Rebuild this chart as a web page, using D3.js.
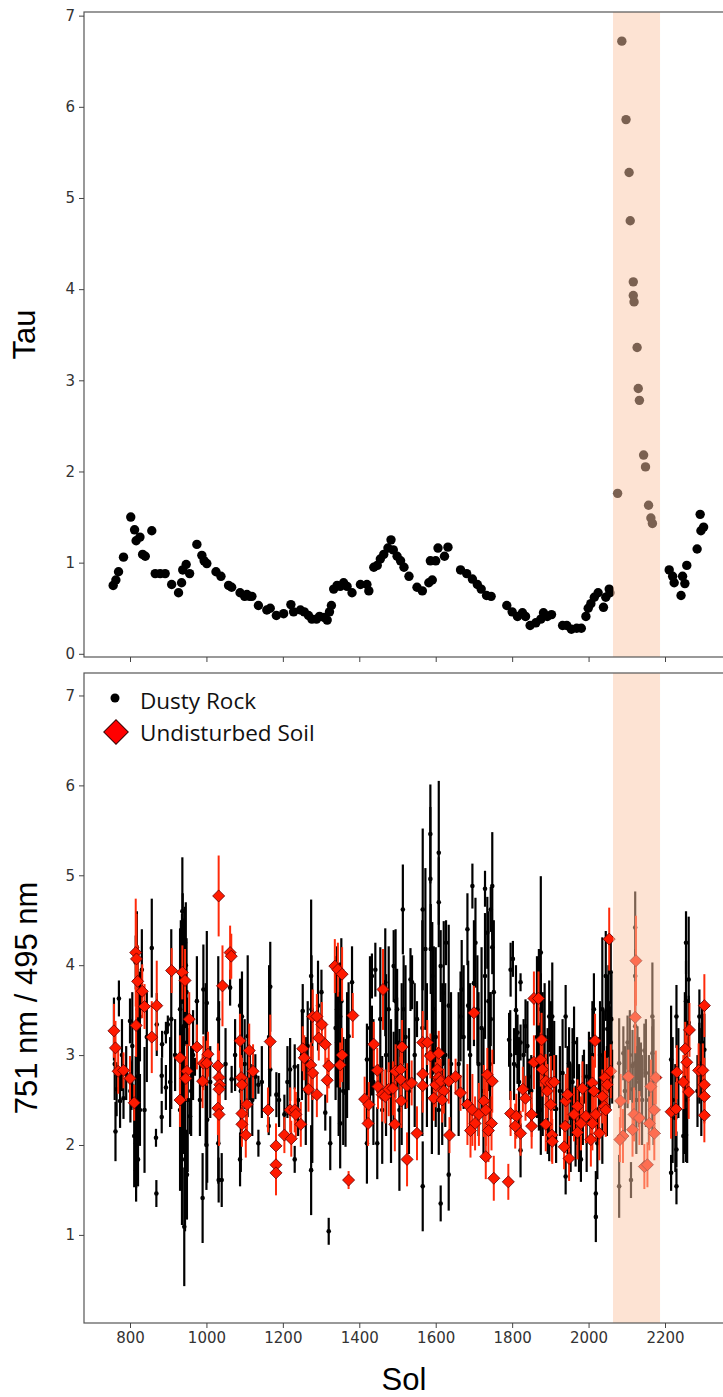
<!DOCTYPE html>
<html>
<head>
<meta charset="utf-8">
<script src="https://cdn.jsdelivr.net/npm/d3@7"></script>
<style>
  body { margin: 0; background: #fff; }
  .tick text { font-family: "DejaVu Sans", sans-serif; font-size: 15px; fill: #333; }
  .axis-label { font-family: "Liberation Sans", Arial, sans-serif; font-size: 31px; fill: #000; }
  .legend text { font-family: "Open Sans", sans-serif; font-size: 22.5px; fill: #111; }
</style>
</head>
<body>
<div id="chart"></div>
<script>
// top panel: optical depth
const tauSol = [756,763,770,783,802,812,816,826,833,840,857,866,879,892,909,927,935,938,947,956,975,988,994,1001,1025,1038,1058,1066,1088,1100,1106,1113,1119,1136,1158,1167,1183,1202,1221,1228,1246,1256,1267,1276,1288,1296,1308,1316,1322,1327,1333,1342,1350,1359,1368,1381,1403,1420,1425,1438,1447,1455,1464,1475,1483,1489,1499,1508,1517,1530,1551,1565,1582,1591,1586,1600,1606,1623,1632,1665,1681,1696,1709,1719,1733,1745,1786,1800,1814,1827,1835,1847,1862,1875,1882,1892,1903,1932,1943,1955,1969,1981,1993,1999,2006,2015,2025,2039,2045,2054,2056,2076,2087,2098,2106,2109,2117,2117,2119,2127,2130,2133,2144,2149,2157,2163,2167,2211,2220,2224,2242,2246,2252,2257,2284,2292,2294,2301];
const tauVal = [0.75,0.81,0.90,1.06,1.50,1.36,1.24,1.28,1.09,1.07,1.35,0.88,0.88,0.88,0.76,0.67,0.78,0.92,0.98,0.88,1.20,1.08,1.02,0.99,0.90,0.85,0.75,0.73,0.67,0.63,0.65,0.63,0.63,0.53,0.48,0.50,0.42,0.44,0.54,0.46,0.48,0.46,0.42,0.38,0.38,0.41,0.40,0.37,0.46,0.53,0.71,0.75,0.74,0.78,0.74,0.67,0.76,0.76,0.69,0.95,0.97,1.04,1.09,1.16,1.25,1.14,1.07,1.02,0.95,0.85,0.73,0.69,0.78,0.81,1.02,1.02,1.16,1.07,1.17,0.92,0.88,0.82,0.76,0.71,0.64,0.63,0.53,0.46,0.41,0.45,0.41,0.31,0.34,0.38,0.45,0.41,0.43,0.31,0.31,0.27,0.28,0.28,0.41,0.50,0.55,0.62,0.67,0.51,0.62,0.71,0.67,1.76,6.72,5.86,5.28,4.75,4.08,3.93,3.86,3.36,2.91,2.78,2.18,2.05,1.63,1.49,1.43,0.92,0.85,0.78,0.64,0.85,0.77,0.97,1.15,1.53,1.35,1.39];

// bottom panel: 751/495 ratio, dusty rock targets
const rockSol = [758,762,765,771,774,783,800,801,804,811,815,815,816,816,820,820,821,826,826,831,838,857,868,869,870,883,883,884,894,894,899,908,931,931,933,936,936,938,940,942,944,944,946,949,949,957,970,975,990,992,
  1001,1002,1031,1031,1032,1040,1062,1066,1088,1088,1093,1108,1114,1128,1136,1136,1167,1167,1163,1183,1204,1219,1231,1231,1252,1274,1274,1275,
  1292,1301,1311,1324,1320,1342,1342,1350,1350,1364,1372,1381,1420,1420,1433,1433,1442,1447,1460,1468,1477,1490,1490,1499,1499,1505,1514,1516,1534,1538,1551,1566,1566,
  1573,1586,1586,1587,1591,1595,1608,1608,1608,1613,1613,1621,1627,1634,1634,1668,1665,1683,1685,1696,1704,1709,1729,1729,1735,1744,1744,1748,1748,1792,1796,1802,1814,1814,1822,1822,1822,1835,1844,
  1870,1870,1875,1875,1875,1897,1897,1905,1910,1940,1940,1949,1962,1966,1980,1988,2001,2014,2019,2019,2023,2036,2036,2045,2049,2058,2058,2062,
  2080,2080,2091,2102,2102,2111,2115,2115,2122,2122,2122,2122,2128,2137,2146,
  2167,2167,2167,2216,2216,2230,2230,2230,2248,2255,2255,2255,2262,2262,2290,2290,2297,2303,
  760,779,790,806,818,823,844,905,918,937,941,948,951,960,965,983,
  998,1000,1010,1033,1050,1075,1090,1100,1120,1145,1164,1190,1212,1240,1250,1260,1265,1277,
  1338,1346,1353,1358,1368,1428,1437,1455,1470,1483,1495,1511,1521,1530,1545,1565,
  1577,1590,1600,1617,1625,1640,1660,1673,1690,1700,1712,1720,1725,1738,1742,1752,1795,1805,1810,1818,1830,1840,1850,
  1865,1880,1885,1893,1902,1915,1925,1932,1945,1953,1958,1970,1975,1985,1995,2005,2010,2027,2030,2040,2048,2052,2055,2060,
  2095,2108,2125,2132,2140,2150,2158,2170,2220,2227,2235,2252,2258,2285,2295];
const rockRatio = [3.29,2.15,2.62,3.63,2.49,2.52,3.38,2.60,2.66,2.10,4.03,2.39,2.02,1.72,3.51,2.76,1.84,3.43,2.39,3.95,2.39,4.19,2.08,1.46,3.34,2.77,2.31,3.12,2.64,3.25,3.34,3.40,3.51,2.39,3.90,2.21,4.07,4.30,3.32,1.09,1.84,4.25,4.00,1.67,3.14,2.32,2.87,3.60,1.41,3.73,
  3.58,2.28,3.40,2.02,1.61,1.61,3.75,2.73,3.55,1.84,3.43,3.21,2.80,2.76,2.02,2.67,3.76,2.84,2.21,2.56,2.34,2.84,2.87,1.84,3.49,1.72,3.88,3.51,
  3.55,3.70,2.36,2.02,1.04,3.51,3.14,3.43,2.24,2.58,3.21,3.81,2.95,2.02,3.88,3.05,3.95,2.02,2.39,3.81,3.51,3.99,2.76,3.51,3.14,2.39,4.62,3.51,3.84,3.81,3.40,4.62,1.54,
  4.18,5.46,4.96,4.18,3.88,3.51,5.25,4.70,2.39,3.99,1.35,3.69,4.25,3.55,1.67,3.73,3.43,4.40,3.55,4.88,4.25,3.51,4.85,3.88,4.36,4.62,3.40,4.88,4.20,3.17,3.95,4.07,3.25,2.88,3.14,1.94,3.81,3.32,2.76,
  3.88,2.76,4.14,3.51,2.39,3.43,2.02,3.43,2.88,3.43,1.65,2.91,3.14,2.21,1.84,2.76,2.76,3.51,1.46,1.20,2.02,3.51,2.39,3.88,3.29,3.92,3.14,2.76,
  1.54,2.91,3.02,3.14,2.76,1.61,2.88,2.62,4.42,3.88,3.32,2.91,3.02,2.84,3.05,
  3.43,3.02,2.54,1.69,2.95,3.43,1.54,1.95,2.10,4.25,3.60,2.11,3.84,3.36,2.91,3.43,3.14,3.06,
  2.90,3.00,2.80,3.10,4.20,3.00,3.20,2.70,3.00,4.60,2.90,3.70,2.50,2.60,3.00,2.50,
  2.90,2.00,2.70,2.80,2.90,3.00,2.60,2.90,2.50,2.70,3.20,2.50,2.70,2.50,3.00,2.60,3.10,2.80,
  3.30,2.90,3.60,2.60,3.00,3.30,2.70,3.40,3.00,2.60,3.60,2.90,3.20,2.60,3.00,3.30,
  3.00,2.80,3.20,2.90,3.00,2.90,2.90,3.20,3.00,3.80,2.90,3.30,2.60,3.60,2.90,3.70,3.00,2.90,3.50,2.70,3.00,3.10,2.60,
  3.20,2.90,3.20,2.60,3.00,2.40,2.60,2.80,2.50,2.30,2.70,2.60,2.30,2.50,2.30,2.60,3.00,2.60,3.00,3.00,2.60,3.50,3.00,3.40,
  2.60,3.00,2.50,2.70,2.50,2.80,2.50,2.70,2.50,2.30,2.80,2.80,2.50,2.60,2.70];
const rockErr = [0.35,0.33,0.30,0.20,0.30,0.23,0.25,0.35,0.27,0.57,0.30,0.60,0.50,0.35,0.70,0.80,0.30,0.50,0.40,0.45,0.70,0.55,0.10,0.15,0.35,0.20,0.18,0.15,0.25,0.12,0.10,1.00,0.90,0.90,0.60,1.10,0.50,0.50,1.20,0.66,0.80,0.40,0.70,0.50,0.50,0.20,0.10,0.50,0.50,0.50,
  0.80,0.70,0.70,0.45,0.25,0.30,0.20,0.15,0.30,0.30,0.50,0.90,0.30,0.25,0.15,0.10,0.50,0.30,0.10,0.25,0.22,0.35,0.25,0.15,0.30,0.50,0.85,0.60,
  0.50,0.25,0.20,0.30,0.15,0.70,0.50,0.60,0.50,0.60,0.60,0.40,0.40,0.45,0.25,0.50,0.30,0.40,0.60,0.60,0.70,0.40,0.50,0.45,0.50,0.90,0.50,0.60,0.35,0.30,0.20,0.90,0.50,
  0.90,0.55,0.80,0.50,0.60,0.70,0.80,0.50,0.50,0.40,0.20,0.80,0.25,0.90,0.40,0.55,0.50,0.40,0.50,0.25,0.50,0.60,0.20,0.70,0.40,0.25,0.30,0.60,0.30,0.30,0.30,0.20,0.20,0.20,0.20,0.30,0.10,0.30,0.20,
  0.30,0.60,0.85,0.40,0.50,0.40,0.20,0.60,0.50,0.35,0.20,0.40,0.40,0.45,0.25,0.30,0.50,0.40,0.25,0.28,0.40,0.80,0.60,0.50,0.60,0.35,0.40,0.30,
  0.35,0.50,0.30,0.30,0.35,0.20,0.40,0.30,0.40,0.30,0.30,0.30,0.30,0.30,0.30,
  0.60,0.30,0.40,0.20,0.60,0.35,0.20,0.20,0.30,0.35,0.45,0.30,0.70,0.30,0.45,0.30,0.40,0.40,
  0.40,0.40,0.30,0.60,0.40,0.90,0.50,0.50,0.40,0.60,1.00,0.60,0.80,0.50,0.50,0.40,
  0.90,0.50,0.40,0.80,0.40,0.40,0.90,0.50,0.40,0.40,0.80,0.30,0.40,0.40,0.50,0.60,0.50,1.00,
  0.80,0.80,0.70,0.60,0.70,0.80,0.70,0.80,0.90,0.80,0.80,0.90,0.80,0.70,0.80,1.20,
  0.80,0.90,1.00,0.90,0.80,0.80,0.80,0.80,0.80,0.70,0.80,0.90,0.70,1.00,0.80,0.80,0.50,0.40,0.50,0.50,0.40,0.50,0.40,
  0.90,0.80,0.60,0.70,0.60,0.60,0.50,0.60,0.60,0.60,0.60,0.60,0.60,0.50,0.60,0.60,0.60,0.60,0.60,0.50,0.50,0.50,0.60,0.50,
  0.50,0.50,0.60,0.50,0.50,0.60,0.50,0.70,0.70,0.60,0.50,0.90,0.70,0.40,0.60];

// bottom panel: undisturbed soil targets
const soilSol = [758,762,769,783,800,811,815,817,820,832,838,816,857,870,909,937,944,955,931,949,946,931,975,992,990,
  1004,1001,1032,1030,1033,1035,1033,1030,1033,1042,1062,1065,1088,1091,1093,1106,1093,1093,1103,1112,1122,1161,1167,1182,1182,1182,1204,1222,1219,1231,1234,1247,1252,1256,1273,1278,1267,1278,
  1289,1294,1302,1311,1320,1316,1289,1336,1344,1355,1355,1350,1383,1372,1414,1425,1423,1438,1447,1449,1460,1468,1477,1488,1495,1508,1512,1508,1510,1493,1462,1525,1537,1525,1551,1566,1566,1566,
  1578,1586,1608,1604,1608,1600,1613,1595,1621,1617,1634,1652,1636,1665,1683,1696,1700,1703,1691,1713,1726,1731,1735,1748,1731,1746,1738,1752,1790,1796,1811,1808,1822,1828,1835,1851,1851,1857,1857,
  1869,1877,1875,1879,1888,1892,1901,1910,1901,1888,1904,1905,1940,1945,1939,1936,1949,1971,1984,1980,1971,1962,1993,2010,2014,2017,2006,2010,2019,2028,2036,2041,2043,2049,2058,2054,2045,
  2124,2122,2104,2084,2090,2082,2115,2119,2133,2146,2176,2172,2172,2159,2154,2163,
  2216,2229,2231,2248,2253,2257,2262,2264,2288,2299,2303,2303,2303,2303];
const soilRatio = [3.27,3.08,2.82,2.83,2.74,2.47,4.14,4.07,3.82,3.71,3.54,3.33,3.20,3.55,3.94,3.92,3.83,3.40,2.97,2.82,2.74,2.50,3.09,2.91,2.71,
  3.01,2.91,4.77,2.88,2.75,2.67,2.62,2.41,2.34,3.77,4.14,4.10,3.16,2.75,2.67,2.45,2.35,2.23,2.11,3.05,2.82,2.39,3.15,1.99,1.78,1.69,2.11,2.07,2.39,2.39,2.34,2.23,3.07,2.97,2.89,2.80,2.62,3.43,
  3.43,3.19,3.34,3.12,2.88,2.72,2.56,3.99,3.95,3.90,3.00,2.89,3.44,1.61,2.51,2.45,2.24,3.12,2.83,2.65,2.56,2.54,2.62,2.63,2.82,2.84,3.09,2.73,2.49,2.23,3.73,2.66,2.69,1.84,2.13,3.14,2.79,2.66,
  3.14,2.99,3.02,2.84,2.75,2.67,2.71,2.52,2.60,2.50,2.71,2.76,2.11,2.58,2.45,2.39,3.47,2.24,2.16,2.34,2.49,2.39,2.78,2.71,1.87,2.24,2.16,1.63,1.59,2.35,2.32,2.21,2.13,2.62,2.52,2.34,2.21,3.63,2.92,
  3.63,3.17,2.95,2.84,2.71,2.60,2.69,2.70,2.45,2.23,2.11,2.04,2.49,2.56,2.21,1.98,1.85,2.43,2.63,2.24,2.14,2.34,2.32,2.69,2.60,3.16,2.06,2.24,2.34,2.13,2.54,2.43,2.75,2.67,2.82,4.29,2.39,
  4.05,3.42,2.76,2.49,2.10,2.06,2.17,2.34,2.30,1.76,2.75,2.39,2.13,2.24,1.78,2.65,
  2.37,2.40,2.81,2.70,3.07,2.92,2.59,3.28,2.83,2.83,3.55,2.67,2.54,2.33];
const soilErr = [0.30,0.30,0.25,0.20,0.25,0.20,0.60,0.50,0.40,0.30,0.25,0.35,0.40,0.50,0.25,0.30,0.35,0.30,0.25,0.30,0.25,0.30,0.25,0.30,0.30,
  0.25,0.25,0.45,0.25,0.30,0.25,0.30,0.30,0.35,0.45,0.30,0.25,0.30,0.25,0.30,0.30,0.25,0.25,0.25,0.30,0.30,0.25,0.30,0.25,0.20,0.25,0.20,0.20,0.25,0.25,0.25,0.25,0.25,0.25,0.25,0.30,0.25,0.30,
  0.25,0.25,0.25,0.25,0.25,0.25,0.25,0.30,0.30,0.30,0.30,0.25,0.25,0.10,0.25,0.25,0.25,0.25,0.25,0.25,0.30,0.30,0.30,0.30,0.30,0.30,0.30,0.25,0.30,0.30,0.45,0.25,0.25,0.30,0.30,0.35,0.30,0.30,
  0.25,0.25,0.25,0.25,0.25,0.25,0.25,0.25,0.25,0.25,0.25,0.20,0.20,0.20,0.45,0.40,0.30,0.30,0.30,0.35,0.40,0.40,0.30,0.35,0.25,0.30,0.35,0.25,0.20,0.25,0.25,0.25,0.25,0.25,0.25,0.25,0.25,0.30,0.30,
  0.30,0.30,0.30,0.30,0.30,0.30,0.30,0.30,0.30,0.30,0.30,0.25,0.30,0.30,0.30,0.25,0.25,0.30,0.30,0.30,0.30,0.30,0.30,0.30,0.35,0.30,0.30,0.30,0.30,0.30,0.30,0.30,0.30,0.30,0.30,0.35,0.30,
  0.50,0.40,0.30,0.30,0.30,0.25,0.30,0.30,0.30,0.25,0.30,0.30,0.30,0.30,0.25,0.30,
  0.30,0.30,0.30,0.30,0.30,0.30,0.30,0.30,0.30,0.30,0.35,0.30,0.30,0.30];

const stormBand = [2064, 2187];
const tauTicks = [0, 1, 2, 3, 4, 5, 6, 7];
const ratioTicks = [1, 2, 3, 4, 5, 6, 7];
const solTicks = [800, 1000, 1200, 1400, 1600, 1800, 2000, 2200];

const W = 723, H = 1397;
const left = 84, right = 724;
const top1 = 12, bot1 = 657;
const top2 = 673, bot2 = 1323;

const svg = d3.select('#chart').append('svg')
  .attr('width', W).attr('height', H);

const x = d3.scaleLinear().domain([800, 2200]).range([130, 665]);
const yTau = d3.scaleLinear().domain([-0.035, 7.04]).range([bot1, top1]);
const yRat = d3.scaleLinear().domain([0.02, 7.25]).range([bot2, top2]);

const defs = svg.append('defs');
defs.append('clipPath').attr('id', 'c1').append('rect')
  .attr('x', left).attr('y', top1).attr('width', right - left).attr('height', bot1 - top1);
defs.append('clipPath').attr('id', 'c2').append('rect')
  .attr('x', left).attr('y', top2).attr('width', right - left).attr('height', bot2 - top2);

// ---- top panel ----
const g1 = svg.append('g').attr('clip-path', 'url(#c1)');
g1.selectAll('circle').data(d3.range(tauSol.length)).enter().append('circle')
  .attr('cx', i => x(tauSol[i]))
  .attr('cy', i => yTau(tauVal[i]))
  .attr('r', 4.7)
  .attr('fill', '#000');

// ---- bottom panel ----
const g2 = svg.append('g').attr('clip-path', 'url(#c2)');
const rockIdx = d3.range(rockSol.length);
const soilIdx = d3.range(soilSol.length);

g2.append('g').selectAll('line').data(rockIdx).enter().append('line')
  .attr('x1', i => x(rockSol[i])).attr('x2', i => x(rockSol[i]))
  .attr('y1', i => yRat(rockRatio[i] - rockErr[i]))
  .attr('y2', i => yRat(rockRatio[i] + rockErr[i]))
  .attr('stroke', '#000').attr('stroke-width', 2.2);
g2.append('g').selectAll('circle').data(rockIdx).enter().append('circle')
  .attr('cx', i => x(rockSol[i])).attr('cy', i => yRat(rockRatio[i]))
  .attr('r', 2.3).attr('fill', '#000');

g2.append('g').selectAll('line').data(soilIdx).enter().append('line')
  .attr('x1', i => x(soilSol[i])).attr('x2', i => x(soilSol[i]))
  .attr('y1', i => yRat(soilRatio[i] - soilErr[i]))
  .attr('y2', i => yRat(soilRatio[i] + soilErr[i]))
  .attr('stroke', '#ff2a0a').attr('stroke-width', 2);

const diamond = d3.symbol().type(d3.symbolSquare).size(72);
g2.append('g').selectAll('path').data(soilIdx).enter().append('path')
  .attr('d', diamond)
  .attr('transform', i => `translate(${x(soilSol[i])},${yRat(soilRatio[i])}) rotate(45)`)
  .attr('fill', '#ff1a00').attr('stroke', '#6b0000').attr('stroke-width', 0.8);

// dust storm shading over both panels
[[top1, bot1], [top2, bot2]].forEach(([t, b]) => {
  svg.append('rect')
    .attr('x', x(stormBand[0])).attr('y', t)
    .attr('width', x(stormBand[1]) - x(stormBand[0])).attr('height', b - t)
    .attr('fill', 'rgb(251,198,165)').attr('fill-opacity', 0.49);
});

// frames
[[top1, bot1], [top2, bot2]].forEach(([t, b]) => {
  svg.append('rect')
    .attr('x', left).attr('y', t).attr('width', right - left).attr('height', b - t)
    .attr('fill', 'none').attr('stroke', '#555').attr('stroke-width', 1.2);
});

// axes
function styleAxis(g) {
  g.select('.domain').remove();
  g.selectAll('.tick line').attr('stroke', '#444').attr('stroke-width', 1);
}
svg.append('g').attr('transform', `translate(${left},0)`)
  .call(d3.axisLeft(yTau).tickValues(tauTicks).tickSize(5).tickPadding(4).tickFormat(d3.format('d')))
  .call(styleAxis);
svg.append('g').attr('transform', `translate(${left},0)`)
  .call(d3.axisLeft(yRat).tickValues(ratioTicks).tickSize(5).tickPadding(4).tickFormat(d3.format('d')))
  .call(styleAxis);
svg.append('g').attr('transform', `translate(0,${bot1})`)
  .call(d3.axisBottom(x).tickValues(solTicks).tickSize(5).tickFormat(''))
  .call(styleAxis);
svg.append('g').attr('transform', `translate(0,${bot2})`)
  .call(d3.axisBottom(x).tickValues(solTicks).tickSize(5).tickPadding(4).tickFormat(d3.format('d')))
  .call(styleAxis);

// axis labels
svg.append('text').attr('class', 'axis-label')
  .attr('transform', `translate(35,${(top1 + bot1) / 2}) rotate(-90)`)
  .attr('text-anchor', 'middle').text('Tau');
svg.append('text').attr('class', 'axis-label')
  .attr('transform', `translate(37,${(top2 + bot2) / 2}) rotate(-90)`)
  .attr('text-anchor', 'middle').text('751 nm / 495 nm');
svg.append('text').attr('class', 'axis-label')
  .attr('x', (left + right) / 2).attr('y', 1390)
  .attr('text-anchor', 'middle').text('Sol');

// legend
const lg = svg.append('g').attr('class', 'legend');
lg.append('circle').attr('cx', 115).attr('cy', 698).attr('r', 4.5).attr('fill', '#000');
lg.append('text').attr('x', 140).attr('y', 709).text('Dusty Rock');
lg.append('path')
  .attr('d', d3.symbol().type(d3.symbolSquare).size(300))
  .attr('transform', 'translate(116,732) rotate(45)')
  .attr('fill', '#ff0000').attr('stroke', '#3a0000').attr('stroke-width', 1);
lg.append('text').attr('x', 140).attr('y', 741).text('Undisturbed Soil');
</script>
</body>
</html>
